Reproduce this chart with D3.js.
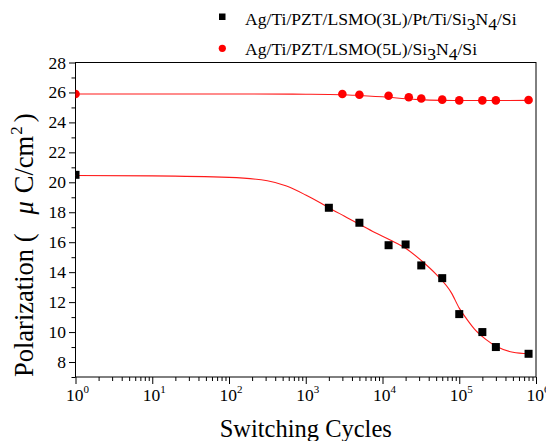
<!DOCTYPE html>
<html>
<head>
<meta charset="utf-8">
<script src="https://cdn.jsdelivr.net/npm/d3@7"></script>
<style>
  body { margin: 0; background: #fff; }
  text { font-family: "Liberation Serif", "Times New Roman", serif; fill: #000; }
</style>
</head>
<body>
<div class="main"></div>
<script>
// measured points (switching cycles vs polarization)
const cycles3L = [1, 2000, 5000, 12000, 20000, 32000, 60000, 100000, 200000, 300000, 800000];
const pol3L = [20.5, 18.3, 17.3, 15.8, 15.85, 14.45, 13.6, 11.2, 10.0, 9.0, 8.55];
const cycles5L = [1, 3000, 5000, 12000, 22000, 32000, 60000, 100000, 200000, 300000, 800000];
const pol5L = [25.9, 25.9, 25.85, 25.78, 25.68, 25.6, 25.52, 25.47, 25.47, 25.47, 25.5];

// fitted curves
const fit3LX = [1, 10, 100, 316, 562, 1000, 1585, 2000, 3160, 5000, 7940, 12600, 20000, 31600, 50100, 79400, 100000, 126000, 158000, 224000, 316000, 501000, 800000];
const fit3LY = [20.45, 20.43, 20.33, 20.1, 19.75, 19.15, 18.6, 18.3, 17.75, 17.2, 16.65, 16.15, 15.6, 14.8, 13.85, 12.6, 11.6, 10.85, 10.2, 9.5, 9.0, 8.65, 8.55];
const fit5LX = [1, 100, 1000, 3000, 5000, 12000, 20000, 30000, 60000, 100000, 300000, 800000];
const fit5LY = [25.9, 25.9, 25.88, 25.85, 25.8, 25.68, 25.58, 25.52, 25.47, 25.46, 25.46, 25.47];

const xTicks = [1, 10, 100, 1000, 10000, 100000, 1000000];
const yTicks = [8, 10, 12, 14, 16, 18, 20, 22, 24, 26, 28];

const seriesNames = ["Ag/Ti/PZT/LSMO(3L)/Pt/Ti/Si", "Ag/Ti/PZT/LSMO(5L)/Si"];

let width = 546;
let height = 441;
let mLeft = 75.5, mRight = 536, mTop = 62.5, mBottom = 377;

let svg = d3.select('.main').append("svg")
    .attr("width", width)
    .attr("height", height);

let x = d3.scaleLog().domain([1, 1e6]).range([mLeft, mRight]);
let y = d3.scaleLinear().domain([7, 28]).range([mBottom, mTop]);

// minor ticks
let xMinor = [];
for (let e = 0; e < 6; e++) {
    for (let m = 2; m <= 9; m++) xMinor.push(m * Math.pow(10, e));
}
let yMinor = d3.range(7, 28, 2);

let xAxis = svg.append("g")
    .attr("transform", `translate(0,${mBottom})`);
xAxis.call(d3.axisBottom(x).tickValues(xMinor).tickSize(4).tickFormat(""));
xAxis.call(g => g.select(".domain").remove());
let xMajor = svg.append("g")
    .attr("transform", `translate(0,${mBottom})`)
    .call(d3.axisBottom(x).tickValues(xTicks).tickSize(7).tickFormat(""));
xMajor.select(".domain").remove();

svg.selectAll(".xlab")
    .data(xTicks)
    .enter().append("text")
    .attr("class", "xlab")
    .attr("x", d => x(d) + 2)
    .attr("y", 401)
    .attr("text-anchor", "middle")
    .style("font-size", "17.5px")
    .each(function (d) {
        let t = d3.select(this);
        t.append("tspan").text("10");
        t.append("tspan").attr("dy", -8).style("font-size", "11px").text(Math.round(Math.log10(d)));
    });

let yAxis = svg.append("g")
    .attr("transform", `translate(${mLeft},0)`);
yAxis.call(d3.axisLeft(y).tickValues(yMinor).tickSize(4).tickFormat(""));
yAxis.select(".domain").remove();
let yMajor = svg.append("g")
    .attr("transform", `translate(${mLeft},0)`)
    .call(d3.axisLeft(y).tickValues(yTicks).tickSize(6.5).tickFormat(""));
yMajor.select(".domain").remove();

svg.selectAll(".ylab")
    .data(yTicks)
    .enter().append("text")
    .attr("class", "ylab")
    .attr("x", 66)
    .attr("y", d => y(d) + 6)
    .attr("text-anchor", "end")
    .style("font-size", "17.5px")
    .text(d => d);

svg.selectAll(".tick line").attr("stroke", "#000");

// frame
svg.append("rect")
    .attr("x", mLeft)
    .attr("y", mTop)
    .attr("width", mRight - mLeft)
    .attr("height", mBottom - mTop)
    .attr("fill", "none")
    .attr("stroke", "#000")
    .attr("stroke-width", 1);

svg.append("clipPath").attr("id", "plot")
    .append("rect")
    .attr("x", mLeft).attr("y", mTop)
    .attr("width", mRight - mLeft).attr("height", mBottom - mTop);

let plot = svg.append("g").attr("clip-path", "url(#plot)");

let line = d3.line()
    .x(d => x(d[0]))
    .y(d => y(d[1]))
    .curve(d3.curveMonotoneX);

plot.append("path")
    .attr("d", line(d3.zip(fit3LX, fit3LY)))
    .attr("fill", "none")
    .attr("stroke", "#ff1a1a")
    .attr("stroke-width", 1.1);
plot.append("path")
    .attr("d", line(d3.zip(fit5LX, fit5LY)))
    .attr("fill", "none")
    .attr("stroke", "#ff1a1a")
    .attr("stroke-width", 1.1);

plot.selectAll(".sq")
    .data(d3.zip(cycles3L, pol3L))
    .enter().append("rect")
    .attr("class", "sq")
    .attr("x", d => x(d[0]) - 4)
    .attr("y", d => y(d[1]) - 4)
    .attr("width", 8)
    .attr("height", 8)
    .attr("fill", "#000");

plot.selectAll(".dot")
    .data(d3.zip(cycles5L, pol5L))
    .enter().append("circle")
    .attr("class", "dot")
    .attr("cx", d => x(d[0]))
    .attr("cy", d => y(d[1]))
    .attr("r", 4.3)
    .attr("fill", "#ff0000");

// legend
let legend = svg.append("g");
legend.append("rect")
    .attr("x", 219).attr("y", 13.5)
    .attr("width", 6.5).attr("height", 6.5)
    .attr("fill", "#000");
legend.append("circle")
    .attr("cx", 222.3).attr("cy", 48.3)
    .attr("r", 3.6)
    .attr("fill", "#ff0000");

function legendText(yPos, name) {
    let t = legend.append("text").attr("x", 245).attr("y", yPos).style("font-size", "17.6px");
    t.append("tspan").text(name);
    t.append("tspan").attr("dy", 5).text("3");
    t.append("tspan").attr("dy", -5).text("N");
    t.append("tspan").attr("dy", 5).text("4");
    t.append("tspan").attr("dy", -5).text("/Si");
}
legendText(25, seriesNames[0]);
legendText(55, seriesNames[1]);

// axis titles
svg.append("text")
    .attr("x", (mLeft + mRight) / 2)
    .attr("y", 437)
    .attr("text-anchor", "middle")
    .style("font-size", "24.5px")
    .text("Switching Cycles");

let yt = svg.append("text")
    .attr("transform", "translate(33,0) rotate(-90)")
    .attr("x", -377)
    .style("font-size", "26.5px");
yt.append("tspan").text("Polarization (");
yt.append("tspan").attr("dx", 19).style("font-style", "italic").text("\u03bc");
yt.append("tspan").attr("dx", 8).text("C/cm");
yt.append("tspan").attr("dy", -11).attr("dx", 1).style("font-size", "17px").text("2");
yt.append("tspan").attr("dy", 11).attr("dx", 4).text(")");
</script>
</body>
</html>
